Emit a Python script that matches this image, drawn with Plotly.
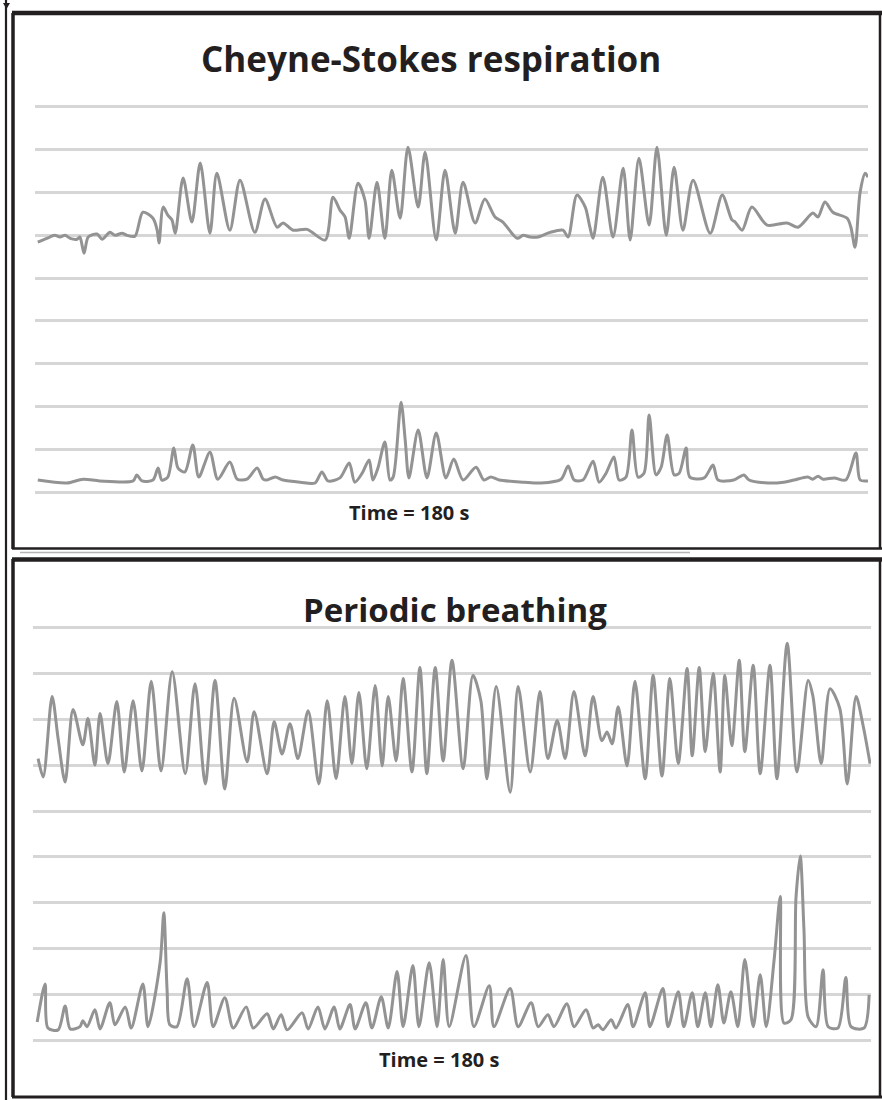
import plotly.graph_objects as go

# ---------------- data (time in s, amplitude in grid units) ----------------
panel_titles = ["Cheyne-Stokes respiration", "Periodic breathing"]
time_label = "Time = 180 s"

cs_flow_t = [0.6, 3.2, 4.3, 5.4, 6.5, 7.6, 9.1, 9.7, 10.6, 11.5, 13.4, 14.5, 16.2, 17.3, 18.8, 19.9,
             21.6, 23.3, 25.5, 26.4, 26.8, 27.7, 28.7, 29.6, 30.3, 32.0, 33.9, 35.7, 37.8, 39.3,
             42.1, 44.3, 47.5, 49.7, 52.3, 53.6, 55.8, 58.8, 62.7, 64.4, 65.9, 67.0, 67.9, 69.8,
             71.3, 72.2, 73.9, 75.6, 77.1, 78.9, 80.6, 82.8, 84.3, 86.7, 88.6, 90.8, 92.5, 95.1,
             97.2, 99.4, 101.1, 104.2, 105.5, 107.0, 108.7, 111.3, 114.1, 115.2, 117.1, 118.9,
             119.9, 120.6, 122.7, 124.9, 127.1, 128.6, 130.5, 132.7, 134.4, 136.4, 138.1, 140.0,
             142.2, 145.9, 148.5, 150.6, 151.3, 152.8, 154.9, 158.2, 162.5, 164.9, 168.1, 169.2,
             170.7, 172.4, 175.5, 176.3, 177.2, 178.3, 179.4, 180.0]
cs_flow = [5.84, 5.96, 6.00, 5.96, 6.00, 5.93, 5.91, 5.96, 5.58, 5.96, 6.03, 5.91, 6.07, 6.00, 6.05, 6.00,
           5.98, 6.54, 6.40, 6.12, 5.82, 6.66, 6.47, 6.36, 6.05, 7.34, 6.31, 7.69, 6.05, 7.45,
           6.12, 7.29, 6.07, 6.85, 6.19, 6.29, 6.12, 6.14, 5.89, 6.89, 6.59, 6.43, 5.93, 7.22,
           6.82, 5.93, 7.24, 5.93, 7.52, 6.40, 8.06, 6.66, 7.94, 5.89, 7.52, 6.05, 7.24, 6.29,
           6.85, 6.43, 6.31, 5.93, 6.00, 5.96, 5.96, 6.07, 6.12, 5.96, 6.94, 6.66,
           6.19, 5.93, 7.36, 5.96, 7.57, 5.89, 7.80, 6.24, 8.06, 6.00, 7.59, 6.12,
           7.29, 6.05, 6.94, 6.36, 6.31, 6.12, 6.66, 6.24, 6.29, 6.19, 6.52, 6.43,
           6.78, 6.54, 6.40, 6.19, 5.72, 7.01, 7.45, 7.36]

cs_effort_t = [0.6, 6.9, 10.4, 14.0, 21.2, 22.0, 23.1, 25.5, 26.6, 27.4, 28.7, 30.0, 30.9, 32.4, 34.1,
               35.4, 37.8, 39.5, 42.1, 43.7, 45.8, 48.0, 49.3, 50.1, 51.9, 53.6, 57.3, 60.5, 62.0,
               63.3, 65.9, 67.9, 69.1, 70.7, 72.2, 73.0, 74.1, 75.6, 76.7, 77.4, 79.1, 80.0, 80.8,
               82.8, 84.7, 86.7, 88.8, 90.5, 92.5, 95.3, 97.0, 98.5, 100.3, 105.7, 109.3, 113.7,
               115.2, 116.5, 118.4, 120.6, 121.9, 123.4, 125.1, 126.2, 127.7, 129.0, 130.3, 131.6,
               132.7, 134.2, 135.3, 136.6, 138.1, 139.2, 140.7, 141.5, 144.6, 146.5, 147.6, 151.0,
               153.2, 154.3, 158.4, 161.8, 164.0, 167.0, 168.1, 169.2, 170.3, 172.7, 175.2, 177.4,
               178.3, 180.0]
cs_effort = [0.28, 0.21, 0.30, 0.26, 0.26, 0.40, 0.26, 0.28, 0.56, 0.28, 0.35, 1.03, 0.56, 0.47, 1.10,
             0.35, 0.93, 0.30, 0.70, 0.30, 0.30, 0.56, 0.30, 0.28, 0.35, 0.28, 0.23, 0.21, 0.47,
             0.26, 0.33, 0.68, 0.23, 0.44, 0.75, 0.28, 0.56, 1.17, 0.28, 0.35, 2.10, 1.21, 0.33,
             1.45, 0.33, 1.38, 0.33, 0.77, 0.28, 0.58, 0.28, 0.35, 0.28, 0.23, 0.21, 0.30,
             0.61, 0.28, 0.28, 0.72, 0.23, 0.44, 0.82, 0.28, 0.35, 1.45, 0.35, 0.44,
             1.80, 0.40, 0.58, 1.33, 0.40, 0.44, 1.03, 0.35, 0.33, 0.63, 0.28, 0.28,
             0.40, 0.28, 0.21, 0.23, 0.28, 0.35, 0.30, 0.37, 0.30, 0.33, 0.28, 0.91,
             0.28, 0.26]

pb_flow_t = [1.1, 2.2, 4.1, 5.4, 6.9, 8.6, 10.7, 11.8, 13.3, 14.4, 16.1, 18.0, 19.6, 21.5, 23.4, 25.4,
             27.5, 29.9, 32.7, 34.8, 37.0, 39.1, 41.2, 43.2, 46.0, 47.5, 50.3, 51.8, 53.5, 55.2,
             56.9, 59.1, 61.4, 63.2, 65.1, 67.0, 68.5, 70.0, 71.7, 73.5, 75.0, 76.3, 78.0, 79.5,
             81.4, 83.1, 84.6, 86.4, 88.1, 90.0, 92.4, 94.5, 96.2, 97.5, 99.5, 102.5, 104.2,
             106.8, 108.9, 110.6, 112.6, 114.3, 116.2, 118.6, 120.3, 122.2, 123.3, 124.4, 125.7,
             127.6, 129.3, 131.5, 133.2, 135.1, 136.8, 138.6, 140.5, 141.6, 143.1, 144.4, 146.1,
             147.6, 148.6, 150.1, 151.7, 152.9, 154.7, 156.2, 158.3, 159.8, 162.0, 164.1, 166.5,
             167.5, 169.3, 171.2, 173.3, 174.9, 176.8, 178.3, 179.8]
pb_flow = [6.14, 5.74, 7.49, 6.57, 5.63, 7.21, 6.44, 7.01, 6.00, 7.12, 6.03, 7.38, 5.85, 7.40, 5.87, 7.82,
           5.87, 8.03, 5.81, 7.77, 5.59, 7.84, 5.48, 7.45, 6.07, 7.16, 5.81, 6.94, 6.24, 6.90,
           6.14, 7.18, 5.59, 7.40, 5.70, 7.49, 6.03, 7.58, 5.92, 7.73, 5.98, 7.49, 6.09, 7.88,
           5.85, 8.12, 5.81, 8.12, 6.09, 8.28, 5.92, 7.95, 7.40, 5.70, 7.71, 5.41, 7.71,
           5.85, 7.60, 6.14, 6.97, 6.14, 7.60, 6.20, 7.49, 6.53, 6.72, 6.46, 7.27,
           5.98, 7.82, 5.70, 7.95, 5.76, 7.88, 6.03, 8.10, 6.20, 8.12, 6.29, 7.99,
           5.85, 7.95, 6.42, 8.28, 6.29, 8.17, 5.81, 8.17, 5.70, 8.65, 5.85, 7.84,
           7.51, 6.03, 7.66, 7.23, 5.59, 7.49, 6.86, 6.03]

pb_effort_t = [0.9, 2.6, 3.2, 5.4, 6.9, 8.0, 10.1, 10.7, 11.6, 13.3, 14.4, 16.5, 17.6, 19.8, 21.1, 23.6,
               24.7, 27.3, 28.1, 28.8, 29.4, 30.9, 33.1, 34.6, 37.4, 38.7, 41.2, 43.0, 45.8, 47.3,
               50.3, 51.6, 53.3, 54.6, 57.8, 59.1, 61.2, 62.7, 64.7, 65.9, 68.1, 69.2, 71.5, 72.8,
               74.8, 76.3, 78.2, 79.5, 81.6, 82.9, 85.1, 86.8, 88.1, 89.4, 93.0, 94.7, 98.0, 99.0,
               102.5, 104.2, 107.0, 108.5, 110.6, 111.9, 114.7, 116.2, 118.8, 120.3, 121.4, 122.4,
               124.2, 125.2, 127.8, 128.9, 131.5, 132.5, 135.3, 136.4, 138.6, 139.8, 141.6, 142.8,
               144.4, 145.6, 147.1, 148.4, 149.9, 151.4, 152.9, 154.7, 156.2, 157.5, 159.2, 160.5,
               161.3, 162.8, 163.9, 164.8, 165.6, 166.5, 168.2, 169.7, 170.8, 172.9, 174.6, 175.7,
               178.5, 179.6]
pb_effort = [0.41, 1.24, 0.28, 0.24, 0.76, 0.26, 0.31, 0.44, 0.31, 0.68, 0.26, 0.83, 0.35, 0.74, 0.28, 1.24,
             0.31, 1.70, 2.79, 1.11, 0.35, 0.31, 1.35, 0.31, 1.27, 0.31, 0.94, 0.28, 0.74, 0.28,
             0.59, 0.26, 0.57, 0.24, 0.61, 0.26, 0.74, 0.26, 0.74, 0.26, 0.79, 0.26, 0.83, 0.28,
             0.96, 0.28, 1.51, 0.31, 1.64, 0.31, 1.70, 0.31, 1.77, 0.31, 1.86, 0.31, 1.20, 0.31,
             1.14, 0.31, 0.83, 0.31, 0.57, 0.31, 0.81, 0.31, 0.68, 0.28, 0.35, 0.24,
             0.46, 0.28, 0.79, 0.31, 1.05, 0.31, 1.14, 0.31, 1.07, 0.31, 1.05, 0.31,
             1.05, 0.31, 1.22, 0.39, 1.07, 0.31, 1.77, 0.31, 1.44, 0.31, 1.77, 3.14,
             0.39, 0.46, 3.14, 4.02, 2.42, 0.52, 0.31, 1.55, 0.31, 0.28, 1.38, 0.31,
             0.28, 1.00]

# ---------------- figure ----------------
W, H = 882, 1100
def px(x):
    return x / W
def py(y):
    return 1 - y / H

LINE = dict(color="#939393", width=3, shape="spline", smoothing=0.8)

fig = go.Figure()
fig.add_trace(go.Scatter(x=cs_flow_t, y=cs_flow, mode="lines", line=LINE, xaxis="x", yaxis="y", hoverinfo="skip"))
fig.add_trace(go.Scatter(x=cs_effort_t, y=cs_effort, mode="lines", line=LINE, xaxis="x", yaxis="y", hoverinfo="skip"))
fig.add_trace(go.Scatter(x=pb_flow_t, y=pb_flow, mode="lines", line=LINE, xaxis="x2", yaxis="y2", hoverinfo="skip"))
fig.add_trace(go.Scatter(x=pb_effort_t, y=pb_effort, mode="lines", line=LINE, xaxis="x2", yaxis="y2", hoverinfo="skip"))

grid = dict(showgrid=True, gridcolor="#d6d6d6", gridwidth=2.5, dtick=1, tick0=0,
            showticklabels=False, zeroline=False, showline=False, ticks="", fixedrange=True)
xax = dict(showgrid=False, showticklabels=False, zeroline=False, showline=False, ticks="",
           range=[0, 180], fixedrange=True)

top_lo = 492 + 0.5 * 42.8
top_hi = 107 - 0.5 * 42.8
bot_lo = 1041 + 0.5 * 45.8
bot_hi = 627 - 0.5 * 45.8

fig.update_layout(
    width=W, height=H,
    margin=dict(l=0, r=0, t=0, b=0),
    paper_bgcolor="white", plot_bgcolor="rgba(0,0,0,0)",
    showlegend=False,
    xaxis=dict(xax, domain=[px(35), px(868)], anchor="y"),
    yaxis=dict(grid, range=[-0.5, 9.5], domain=[py(top_lo), py(top_hi)], anchor="x"),
    xaxis2=dict(xax, domain=[px(33), px(871)], anchor="y2"),
    yaxis2=dict(grid, range=[-0.5, 9.5], domain=[py(bot_lo), py(bot_hi)], anchor="x2"),
)

FONT = "'Open Sans', Lato, sans-serif"
ann = [
    dict(text="<b>" + panel_titles[0] + "</b>", x=px(431), y=py(58), font=dict(size=35, family=FONT, color="#231f20")),
    dict(text="<b>" + panel_titles[1] + "</b>", x=px(455), y=py(609), font=dict(size=33, family=FONT, color="#231f20")),
    dict(text="<b>" + time_label + "</b>", x=px(409), y=py(512), font=dict(size=20, family=FONT, color="#231f20")),
    dict(text="<b>" + time_label + "</b>", x=px(439), y=py(1059), font=dict(size=20, family=FONT, color="#231f20")),
]
for a in ann:
    a.update(xref="paper", yref="paper", showarrow=False, xanchor="center", yanchor="middle")
fig.update_layout(annotations=ann)

K = "#231f20"
def line(x0, y0, x1, y1, w, c=K):
    return dict(type="line", xref="paper", yref="paper", x0=px(x0), y0=py(y0), x1=px(x1), y1=py(y1),
                line=dict(color=c, width=w), layer="above")

shapes = [
    line(6, 0, 6, 1100, 2.2),                 # outer left rule
    line(13, 13, 13, 549, 3.5),               # top panel left
    line(12, 13, 882, 13, 4.5),               # top panel top
    line(12, 548.5, 882, 548.5, 2.5),         # top panel bottom
    line(880, 13, 880, 549, 2.5),             # top panel right
    line(13, 559, 13, 1097, 3.5),             # bottom panel left
    line(12, 559.5, 882, 559.5, 4.5),         # bottom panel top
    line(12, 1097, 882, 1097, 3),             # bottom panel bottom
    line(880, 559, 880, 1097, 2.5),           # bottom panel right
    line(20, 552.5, 690, 552.5, 1.5, "#b5b5b5"),
    dict(type="path", xref="paper", yref="paper",
         path=f"M {px(3)},{py(3)} L {px(10)},{py(3)} L {px(6.5)},{py(9)} Z",
         fillcolor=K, line=dict(width=0), layer="above"),
]
fig.update_layout(shapes=shapes)

fig.write_html(
    "out.html",
    config={"displayModeBar": False},
    post_script="document.body.style.margin='0';document.body.style.padding='0';document.body.style.overflow='hidden';",
)
